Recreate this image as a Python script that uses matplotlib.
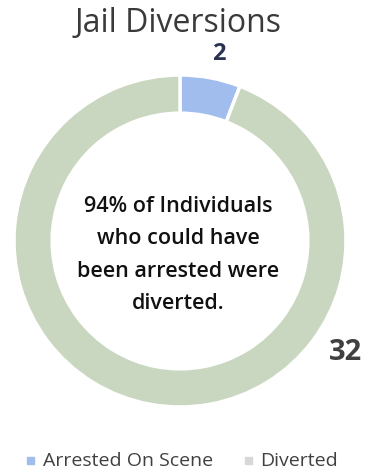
import matplotlib.pyplot as plt

labels = ['Arrested On Scene', 'Diverted']
values = [2, 32]
colors = ['#a0bdee', '#c9d6c0']
center_text = '94% of Individuals\nwho could have\nbeen arrested were\ndiverted.'

W, H = 377, 476
fig = plt.figure(figsize=(W / 100, H / 100), dpi=100)
plt.rcParams['font.family'] = ['Open Sans', 'DejaVu Sans']

cx, cy, r = 180, 241, 166
ax = fig.add_axes([(cx - r) / W, (H - cy - r) / H, 2 * r / W, 2 * r / H])
wedges, _ = ax.pie(values, colors=colors, startangle=90, counterclock=False,
                   radius=1, wedgeprops=dict(width=0.23, edgecolor='white', linewidth=2.5))
ax.set_xlim(-1, 1)
ax.set_ylim(-1, 1)
ax.set_aspect('equal')
ax.axis('off')

fig.text(178 / W, 1 - 23 / H, 'Jail Diversions', ha='center', va='center', fontsize=23, color='#3a3a3a')
fig.text(219 / W, 1 - 54 / H, str(values[0]), ha='center', va='center', fontsize=17,
         fontweight='bold', color='#2b3352')
fig.text(346 / W, 1 - 352 / H, str(values[1]), ha='center', va='center', fontsize=21,
         fontweight='bold', color='#404040')
fig.text(178 / W, 1 - 255 / H, center_text, ha='center', va='center', fontsize=15.5,
         fontweight='semibold', color='#111111', linespacing=1.7)

# legend
fig.add_artist(plt.Rectangle((27 / W, 1 - 464 / H), 7 / W, 7 / H, color=colors[0]))
fig.text(43 / W, 1 - 461 / H, labels[0], ha='left', va='center', fontsize=14, color='#404040')
fig.add_artist(plt.Rectangle((245 / W, 1 - 464 / H), 7 / W, 7 / H, color='#d8d8d8'))
fig.text(260 / W, 1 - 461 / H, labels[1], ha='left', va='center', fontsize=14, color='#404040')

fig.savefig('out.png', dpi=100)
